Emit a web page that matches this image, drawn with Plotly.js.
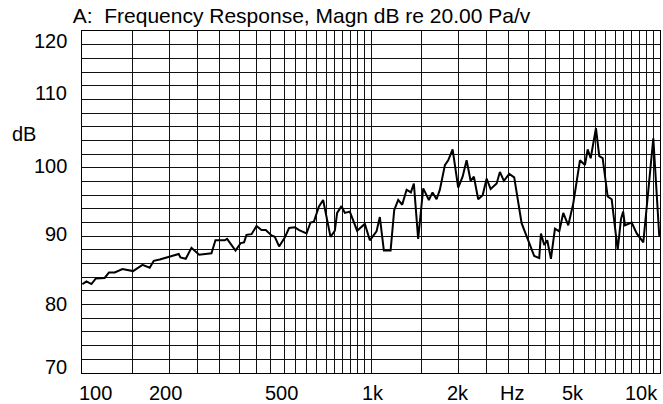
<!DOCTYPE html>
<html>
<head>
<meta charset="utf-8">
<script src="https://cdn.plot.ly/plotly-3.0.1.min.js"></script>
<style>
  html, body { margin: 0; padding: 0; background: #fff; }
  #chart { width: 663px; height: 404px; }
</style>
</head>
<body>
<div id="chart"></div>
<script>
// Frequency (Hz) of each sampled point of the response curve
const freqHz = [100.3, 103.6, 107.8, 111.5, 119.8, 124.0, 129.8, 138.0, 150.2, 161.9,
  171.5, 177.1, 185.8, 201.2, 216.1, 219.1, 228.6, 239.2, 254.2, 280.5,
  289.6, 311.9, 317.7, 339.7, 354.3, 363.7, 370.8, 386.0, 401.7, 417.9,
  432.5, 452.6, 464.7, 480.8, 503.1, 520.6, 545.0, 564.0, 598.4, 617.7,
  634.2, 659.9, 682.9, 724.4, 749.7, 763.5, 790.7, 811.8, 844.8, 895.3,
  952.0, 990.8, 1045, 1073, 1108, 1169, 1203, 1242, 1282, 1328,
  1374, 1407, 1456, 1516, 1548, 1586, 1633, 1686, 1731, 1802,
  1850, 1916, 2003, 2075, 2142, 2211, 2270, 2349, 2434, 2512,
  2594, 2721, 2793, 2883, 3008, 3130, 3320, 3437, 3671, 3820,
  3873, 3976, 4072, 4194, 4330, 4481, 4627, 4815, 5011, 5284,
  5500, 5620, 5756, 6003, 6163, 6332, 6590, 6804, 7137, 7328,
  7455, 7565, 7980, 8306, 8529, 8755, 9481, 9945];
// Magnitude (dB re 20.00 Pa/V) at each frequency
const magnDb = [83.0, 83.4, 83.0, 83.8, 83.9, 84.7, 84.7, 85.2, 84.9, 85.8,
  85.4, 86.4, 86.6, 87.0, 87.4, 86.9, 86.7, 88.3, 87.3, 87.5,
  89.4, 89.4, 89.6, 87.9, 89.0, 89.1, 90.2, 90.3, 91.5, 90.9,
  90.9, 90.1, 89.9, 88.5, 89.8, 91.2, 91.3, 90.9, 90.4, 92.0,
  92.1, 94.3, 95.3, 89.9, 90.8, 93.4, 94.4, 93.4, 93.6, 90.8,
  91.8, 89.4, 90.7, 92.8, 87.9, 87.9, 93.8, 95.3, 94.6, 96.8,
  96.4, 97.7, 89.6, 97.0, 96.3, 95.3, 96.4, 95.4, 96.8, 100.4,
  101.1, 102.7, 97.1, 98.7, 101.1, 98.1, 98.7, 95.4, 96.0, 98.4,
  96.9, 97.7, 99.4, 98.1, 99.1, 98.6, 91.9, 90.2, 87.1, 86.8,
  90.4, 88.7, 89.4, 86.7, 91.1, 90.7, 93.4, 91.6, 94.8, 101.1,
  100.4, 102.7, 101.4, 105.8, 101.7, 101.4, 95.8, 95.4, 88.0, 92.5,
  93.6, 91.6, 92.0, 90.4, 89.7, 89.1, 104.3, 89.9];

// Grid (tick) frequencies of the chart paper
const gridFreqs = [100, 150, 200, 250, 300, 350, 400, 450, 500, 550, 600, 650, 700,
  750, 800, 850, 900, 950, 1000, 1500, 2000, 2500, 3000, 3500, 4000, 4500, 5000,
  5500, 6000, 6500, 7000, 7500, 8000, 8500, 9000, 9500, 10000];
// X axis labels and the frequencies they belong to
const xLabelFreqs = [100, 200, 500, 1000, 2000, 3000, 5000, 10000];
const xLabelTexts = ['100', '200', '500', '1k', '2k', 'Hz', '5k', '10k'];
// Y axis labels
const yLabelVals = [120, 110, 100, 90, 80, 70];
const yLabelTexts = ['120', '110', '100', '90', '80', '70'];

const FONT = 'Liberation Sans, Arial, Helvetica, sans-serif';
const INK = '#000';

// small per-label offsets to mimic the original chart paper placement
const xLabelShift = [13.5, -3.5, -3, 2, 0, 3, 0, 0];
const xLabelAnchor = ['center', 'center', 'center', 'center', 'center', 'center', 'center', 'right'];
const yLabelShift = [-10, 6.5, 1.4, 2.2, 1, 6.3];

const annotations = [];
xLabelFreqs.forEach((f, i) => {
  annotations.push({
    xref: 'x', yref: 'paper', x: Math.log10(f), y: 0,
    text: xLabelTexts[i], showarrow: false,
    xanchor: xLabelAnchor[i], yanchor: 'middle',
    xshift: xLabelShift[i], yshift: -20,
    font: {family: FONT, size: 20, color: INK}
  });
});
yLabelVals.forEach((v, i) => {
  annotations.push({
    xref: 'paper', yref: 'y', x: 0, y: v,
    text: yLabelTexts[i], showarrow: false,
    xanchor: 'right', yanchor: 'middle',
    xshift: -13, yshift: yLabelShift[i],
    font: {family: FONT, size: 20, color: INK}
  });
});
annotations.push({
  xref: 'paper', yref: 'y', x: 0, y: 105,
  text: 'dB', showarrow: false, xanchor: 'center', yanchor: 'middle',
  xshift: -58.5, font: {family: FONT, size: 20, color: INK}
});

const trace = {
  x: freqHz, y: magnDb, type: 'scatter', mode: 'lines',
  line: {color: INK, width: 2}, hoverinfo: 'skip'
};

const layout = {
  width: 663, height: 404,
  margin: {l: 82, r: 3, t: 31, b: 31, pad: 0},
  paper_bgcolor: '#fff', plot_bgcolor: '#fff',
  showlegend: false,
  font: {family: FONT, size: 20, color: INK},
  title: {
    text: 'A:  Frequency Response, Magn dB re 20.00 Pa/v',
    font: {family: FONT, size: 21, color: INK},
    xref: 'container', yref: 'container',
    x: 72.7 / 663, xanchor: 'left',
    y: 1 - 16 / 404, yanchor: 'middle'
  },
  xaxis: {
    type: 'log', range: [2, 4], autorange: false,
    tickmode: 'array', tickvals: gridFreqs, showticklabels: false,
    ticks: '', showgrid: true, gridcolor: '#111', gridwidth: 1,
    showline: true, linecolor: INK, linewidth: 1, mirror: true,
    zeroline: false, fixedrange: true
  },
  yaxis: {
    range: [70, 120], autorange: false,
    tick0: 70, dtick: 2, showticklabels: false,
    ticks: '', showgrid: true, gridcolor: '#111', gridwidth: 1,
    showline: true, linecolor: INK, linewidth: 1, mirror: true,
    zeroline: false, fixedrange: true
  },
  annotations: annotations
};

Plotly.newPlot('chart', [trace], layout, {staticPlot: true, displayModeBar: false});
</script>
</body>
</html>
